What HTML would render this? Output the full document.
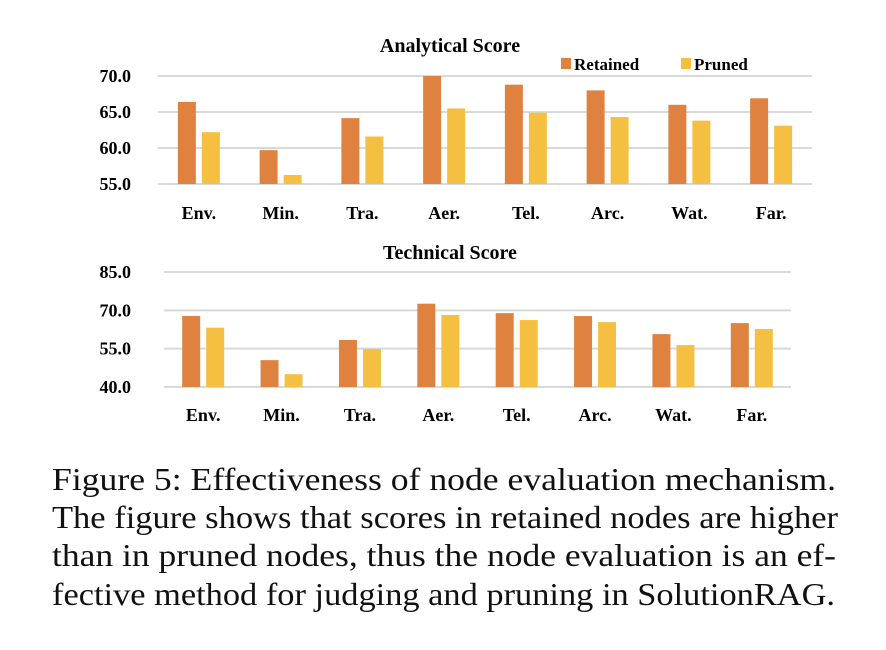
<!DOCTYPE html>
<html><head><meta charset="utf-8"><style>
body{margin:0;background:#fff;width:886px;height:650px;overflow:hidden;font-family:"Liberation Serif",serif}
</style></head><body>
<svg id="chart" width="886" height="450" style="position:absolute;left:0;top:0" font-family="Liberation Serif, serif" font-weight="bold"></svg>
<svg width="886" height="200" style="position:absolute;left:0;top:450px" font-family="Liberation Serif, serif" font-size="32" fill="#111">
<text x="52" y="40" textLength="784" lengthAdjust="spacingAndGlyphs">Figure 5: Effectiveness of node evaluation mechanism.</text>
<text x="52" y="78" textLength="786" lengthAdjust="spacingAndGlyphs">The figure shows that scores in retained nodes are higher</text>
<text x="52" y="116" textLength="784" lengthAdjust="spacingAndGlyphs">than in pruned nodes, thus the node evaluation is an ef-</text>
<text x="52" y="155" textLength="783" lengthAdjust="spacingAndGlyphs">fective method for judging and pruning in SolutionRAG.</text>
</svg>
<script>
const categories=["Env.","Min.","Tra.","Aer.","Tel.","Arc.","Wat.","Far."];
const analyticalRetained=[66.4,59.7,64.15,70.0,68.8,68.0,66.0,66.9];
const analyticalPruned=[62.2,56.25,61.6,65.5,64.9,64.3,63.8,63.1];
const analyticalTicks=[55,60,65,70];
const technicalRetained=[67.8,50.5,58.4,72.6,68.9,67.8,60.7,65.0];
const technicalPruned=[63.2,45.0,54.9,68.2,66.2,65.4,56.4,62.7];
const technicalTicks=[40,55,70,85];
const NS="http://www.w3.org/2000/svg";
const svg=document.getElementById('chart');
function mk(t,a){const e=document.createElementNS(NS,t);for(const k in a)e.setAttribute(k,a[k]);svg.appendChild(e);return e;}
function draw(cfg){
  const ymin=cfg.ticks[0],ymax=cfg.ticks[cfg.ticks.length-1];
  const y=v=>cfg.bottom-(v-ymin)/(ymax-ymin)*(cfg.bottom-cfg.top);
  const band=(cfg.x1-cfg.x0)/categories.length;
  const cx=i=>cfg.x0+band*(i+0.5);
  cfg.ticks.forEach(t=>{
    const l=mk('line',{x1:cfg.x0,x2:cfg.x1,y1:y(t),y2:y(t),stroke:'#d9d9d9','stroke-width':2});
    
    
    const tx=mk('text',{x:131,y:y(t)+6,'text-anchor':'end','font-size':18});
    tx.textContent=t.toFixed(1);
    
    
  });
  categories.forEach((c,i)=>{
    const r=mk('rect',{x:cx(i)-21,y:y(cfg.ret[i]),width:18,height:y(ymin)-y(cfg.ret[i]),fill:'#E0823F'});
    
    
    const p=mk('rect',{x:cx(i)+3,y:y(cfg.pru[i]),width:18,height:y(ymin)-y(cfg.pru[i]),fill:'#F5C042'});
    
    
    const t=mk('text',{x:cx(i),y:cfg.labelY,'text-anchor':'middle','font-size':18});
    t.textContent=c;
    
    
  });
  const ti=mk('text',{x:450,y:cfg.titleY,'text-anchor':'middle','font-size':20});
  ti.textContent=cfg.title;
  
  
}
draw({id:'analytical',title:'Analytical Score',ticks:analyticalTicks,ret:analyticalRetained,pru:analyticalPruned,top:76,bottom:184,x0:158,x1:812,labelY:219,titleY:52});
draw({id:'technical',title:'Technical Score',ticks:technicalTicks,ret:technicalRetained,pru:technicalPruned,top:272,bottom:387,x0:164,x1:791,labelY:421,titleY:259});
const l1=mk('rect',{x:561,y:58,width:10,height:11,fill:'#E0823F'});


const l2=mk('text',{x:574,y:70,'font-size':17});l2.textContent='Retained';


const l3=mk('rect',{x:681,y:58,width:10,height:11,fill:'#F5C042'});


const l4=mk('text',{x:694,y:70,'font-size':17});l4.textContent='Pruned';


</script>
</body></html>
